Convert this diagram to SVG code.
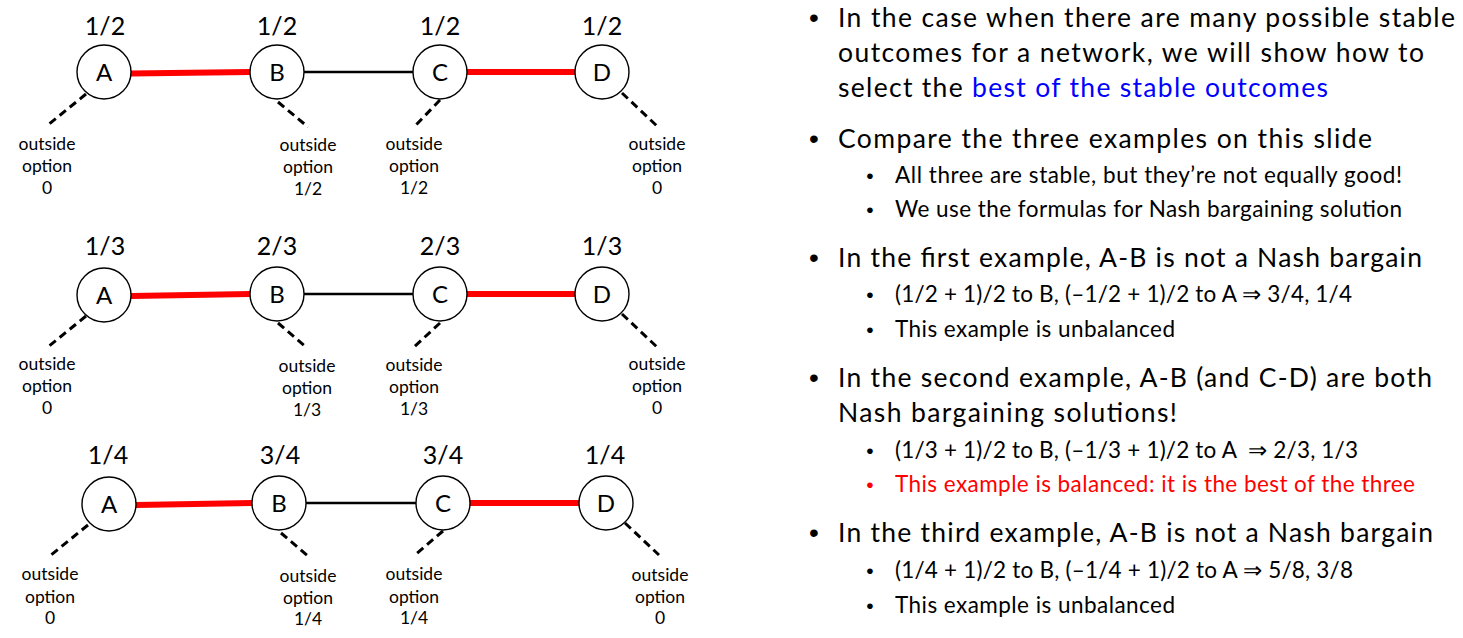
<svg xmlns="http://www.w3.org/2000/svg" width="1463" height="638" viewBox="0 0 1463 638">
<style>
.node{fill:#fff;stroke:#000;stroke-width:1.4}
.let{font-family:Lato,"Liberation Sans",sans-serif;font-size:24px;text-anchor:middle;fill:#000}
.val{font-family:Lato,"Liberation Sans",sans-serif;font-size:25px;text-anchor:middle;fill:#000}
.opt{font-family:Lato,"Liberation Sans",sans-serif;font-size:17.5px;text-anchor:middle;fill:#000}
.red{stroke:#ff0000;stroke-width:6;fill:none}
.blk{stroke:#000;stroke-width:2.5;fill:none}
.dash{stroke:#000;stroke-width:3;stroke-dasharray:8 5;fill:none}
.t1{font-family:Lato,"Liberation Sans",sans-serif;font-size:26.5px;fill:#000}
.t2{font-family:Lato,"Liberation Sans",sans-serif;font-size:22.5px;fill:#000}
.b1{font-family:"Liberation Sans",Arial,sans-serif;font-size:28px;text-anchor:middle;fill:#000}
.b2{font-family:"Liberation Sans",Arial,sans-serif;font-size:21px;text-anchor:middle;fill:#000}
</style>
<rect width="1463" height="638" fill="#fff"/>
<g id="connectors">
<line class="red" x1="131" y1="73.5" x2="250" y2="72"/>
<line class="blk" x1="304" y1="72" x2="413" y2="72"/>
<line class="red" x1="467" y1="72" x2="575" y2="72"/>
<line class="red" x1="131" y1="296" x2="250" y2="294"/>
<line class="blk" x1="304" y1="294" x2="413" y2="294"/>
<line class="red" x1="467" y1="294" x2="575" y2="294"/>
<line class="red" x1="136" y1="505" x2="252" y2="503"/>
<line class="blk" x1="306" y1="503" x2="416" y2="503"/>
<line class="red" x1="470" y1="503" x2="579" y2="503"/>
<line class="dash" x1="86" y1="94" x2="48" y2="125"/>
<line class="dash" x1="278" y1="102" x2="308" y2="127"/>
<line class="dash" x1="440" y1="100" x2="415" y2="126"/>
<line class="dash" x1="622" y1="93" x2="657" y2="126"/>
<line class="dash" x1="86" y1="316" x2="48" y2="347"/>
<line class="dash" x1="278" y1="323" x2="307" y2="348"/>
<line class="dash" x1="440" y1="323" x2="414" y2="347"/>
<line class="dash" x1="622" y1="314" x2="657" y2="347"/>
<line class="dash" x1="88" y1="525" x2="51" y2="555"/>
<line class="dash" x1="281" y1="533" x2="308" y2="556"/>
<line class="dash" x1="443" y1="531" x2="415" y2="555"/>
<line class="dash" x1="625" y1="523" x2="659" y2="555"/>
</g>
<g id="r1A"><circle class="node" cx="104" cy="72" r="27"/><text class="let" x="104" y="81">A</text><text class="val" x="105" y="35">1/2</text></g>
<g id="r1B"><circle class="node" cx="277" cy="72" r="27"/><text class="let" x="277" y="81">B</text><text class="val" x="277" y="35">1/2</text></g>
<g id="r1C"><circle class="node" cx="440" cy="72" r="27"/><text class="let" x="440" y="81">C</text><text class="val" x="440" y="35">1/2</text></g>
<g id="r1D"><circle class="node" cx="602" cy="72" r="27"/><text class="let" x="602" y="81">D</text><text class="val" x="602" y="35">1/2</text></g>
<g id="r1Aopt"><text class="opt" x="47" y="150">outside</text><text class="opt" x="47" y="172">option</text><text class="opt" x="47" y="194">0</text></g>
<g id="r1Bopt"><text class="opt" x="308" y="151">outside</text><text class="opt" x="308" y="173">option</text><text class="opt" x="308" y="195">1/2</text></g>
<g id="r1Copt"><text class="opt" x="414" y="150">outside</text><text class="opt" x="414" y="172">option</text><text class="opt" x="414" y="194">1/2</text></g>
<g id="r1Dopt"><text class="opt" x="657" y="150">outside</text><text class="opt" x="657" y="172">option</text><text class="opt" x="657" y="194">0</text></g>
<g id="r2A"><circle class="node" cx="104" cy="295" r="27"/><text class="let" x="104" y="304">A</text><text class="val" x="105" y="255">1/3</text></g>
<g id="r2B"><circle class="node" cx="277" cy="294" r="27"/><text class="let" x="277" y="303">B</text><text class="val" x="277" y="255">2/3</text></g>
<g id="r2C"><circle class="node" cx="440" cy="294" r="27"/><text class="let" x="440" y="303">C</text><text class="val" x="440" y="255">2/3</text></g>
<g id="r2D"><circle class="node" cx="602" cy="294" r="27"/><text class="let" x="602" y="303">D</text><text class="val" x="602" y="255">1/3</text></g>
<g id="r2Aopt"><text class="opt" x="47" y="370">outside</text><text class="opt" x="47" y="392">option</text><text class="opt" x="47" y="414">0</text></g>
<g id="r2Bopt"><text class="opt" x="307" y="372">outside</text><text class="opt" x="307" y="394">option</text><text class="opt" x="307" y="416">1/3</text></g>
<g id="r2Copt"><text class="opt" x="414" y="371">outside</text><text class="opt" x="414" y="393">option</text><text class="opt" x="414" y="415">1/3</text></g>
<g id="r2Dopt"><text class="opt" x="657" y="370">outside</text><text class="opt" x="657" y="392">option</text><text class="opt" x="657" y="414">0</text></g>
<g id="r3A"><circle class="node" cx="109" cy="504" r="27"/><text class="let" x="109" y="513">A</text><text class="val" x="108" y="464">1/4</text></g>
<g id="r3B"><circle class="node" cx="279" cy="503" r="27"/><text class="let" x="279" y="512">B</text><text class="val" x="280" y="464">3/4</text></g>
<g id="r3C"><circle class="node" cx="443" cy="503" r="27"/><text class="let" x="443" y="512">C</text><text class="val" x="443" y="464">3/4</text></g>
<g id="r3D"><circle class="node" cx="606" cy="503" r="27"/><text class="let" x="606" y="512">D</text><text class="val" x="605" y="464">1/4</text></g>
<g id="r3Aopt"><text class="opt" x="50" y="580">outside</text><text class="opt" x="50" y="603">option</text><text class="opt" x="50" y="624">0</text></g>
<g id="r3Bopt"><text class="opt" x="308" y="582">outside</text><text class="opt" x="308" y="604">option</text><text class="opt" x="308" y="625">1/4</text></g>
<g id="r3Copt"><text class="opt" x="414" y="580">outside</text><text class="opt" x="414" y="603">option</text><text class="opt" x="414" y="624">1/4</text></g>
<g id="r3Dopt"><text class="opt" x="660" y="581">outside</text><text class="opt" x="660" y="603">option</text><text class="opt" x="660" y="624">0</text></g>
<g id="bullets">
<text class="b1" x="814" y="27">•</text>
<text class="t1" x="838" y="27" textLength="617">In the case when there are many possible stable</text>
<text class="t1" x="838" y="62" textLength="586">outcomes for a network, we will show how to</text>
<text class="t1" x="838" y="97" textLength="490">select the <tspan fill="#0000ff">best of the stable outcomes</tspan></text>
<text class="b1" x="814" y="148">•</text>
<text class="t1" x="838" y="148" textLength="534">Compare the three examples on this slide</text>
<text class="b2" x="870" y="183">•</text>
<text class="t2" x="895" y="183" textLength="507">All three are stable, but they’re not equally good!</text>
<text class="b2" x="870" y="217">•</text>
<text class="t2" x="895" y="217" textLength="507">We use the formulas for Nash bargaining solution</text>
<text class="b1" x="814" y="267">•</text>
<text class="t1" x="838" y="267" textLength="584">In the first example, A-B is not a Nash bargain</text>
<text class="b2" x="870" y="302">•</text>
<text class="t2" x="895" y="302" textLength="457">(1/2 + 1)/2 to B, (–1/2 + 1)/2 to A ⇒ 3/4, 1/4</text>
<text class="b2" x="870" y="337">•</text>
<text class="t2" x="895" y="337" textLength="280">This example is unbalanced</text>
<text class="b1" x="814" y="387">•</text>
<text class="t1" x="838" y="387" textLength="594">In the second example, A-B (and C-D) are both</text>
<text class="t1" x="838" y="422" textLength="339">Nash bargaining solutions!</text>
<text class="b2" x="870" y="458">•</text>
<text class="t2" x="895" y="458" textLength="463" xml:space="preserve">(1/3 + 1)/2 to B, (–1/3 + 1)/2 to A  ⇒ 2/3, 1/3</text>
<text class="b2" x="870" y="492" style="fill:#ff0000">•</text>
<text class="t2" x="895" y="492" textLength="520" style="fill:#ff0000">This example is balanced: it is the best of the three</text>
<text class="b1" x="814" y="542">•</text>
<text class="t1" x="838" y="542" textLength="595">In the third example, A-B is not a Nash bargain</text>
<text class="b2" x="870" y="578">•</text>
<text class="t2" x="895" y="578" textLength="458">(1/4 + 1)/2 to B, (–1/4 + 1)/2 to A ⇒ 5/8, 3/8</text>
<text class="b2" x="870" y="613">•</text>
<text class="t2" x="895" y="613" textLength="280">This example is unbalanced</text>
</g>
</svg>
